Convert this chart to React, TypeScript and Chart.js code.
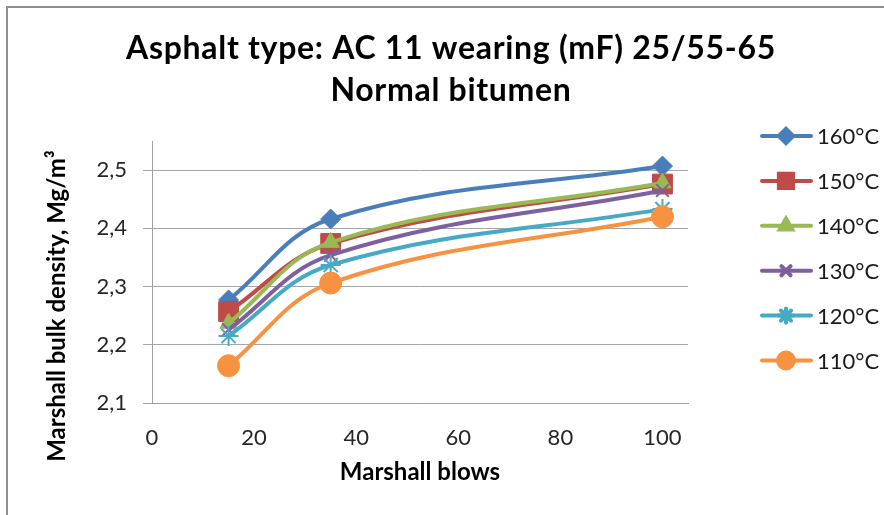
import React, { useEffect, useRef } from "react";
import { Chart, registerables } from "chart.js";
import { drawPoint } from "chart.js/helpers";

Chart.register(...registerables);

// ---- data ----
const BLOWS = [15, 35, 100];
const SERIES_LABELS = ["160°C", "150°C", "140°C", "130°C", "120°C", "110°C"];
const T160 = [2.277, 2.416, 2.507];
const T150 = [2.257, 2.374, 2.476];
const T140 = [2.237, 2.376, 2.478];
const T130 = [2.226, 2.354, 2.465];
const T120 = [2.215, 2.337, 2.433];
const T110 = [2.164, 2.306, 2.42];
const X_TICKS = [0, 20, 40, 60, 80, 100];
const Y_TICKS = [2.1, 2.2, 2.3, 2.4, 2.5];
const TITLE_LINES = ["Asphalt type: AC 11 wearing (mF) 25/55-65", "Normal bitumen"];
const X_TITLE = "Marshall blows";
const Y_TITLE = "Marshall bulk density, Mg/m³";

const SERIES_VALUES = [T160, T150, T140, T130, T120, T110];
const COLORS = ["#4A7EBB", "#BE4B48", "#98B954", "#7D60A0", "#46AAC5", "#F69240"];
const STYLES = ["rectRot", "rect", "triangle", "crossRot", "star", "circle"];
const RADII = [10, 14, 10, 9, 10, 11];

const FONT = "Lato, 'Open Sans', sans-serif";

const decorations = {
  id: "decorations",
  beforeDraw(chart: any) {
    const ctx = chart.ctx;
    ctx.save();
    ctx.fillStyle = "#ffffff";
    ctx.fillRect(0, 0, chart.width, chart.height);
    ctx.strokeStyle = "#8f8f8f";
    ctx.lineWidth = 2;
    ctx.beginPath();
    ctx.moveTo(7, chart.height);
    ctx.lineTo(7, 7);
    ctx.lineTo(chart.width, 7);
    ctx.stroke();
    ctx.restore();
  },
  afterDraw(chart: any) {
    const ctx = chart.ctx;
    // title
    ctx.save();
    ctx.fillStyle = "#000";
    ctx.font = `bold 32px ${FONT}`;
    (ctx as any).letterSpacing = "0.7px";
    ctx.textAlign = "center";
    ctx.textBaseline = "alphabetic";
    ctx.fillText(TITLE_LINES[0], 451, 59);
    ctx.fillText(TITLE_LINES[1], 451, 101);
    ctx.restore();

    // y-axis title
    ctx.save();
    ctx.fillStyle = "#000";
    ctx.font = `bold 24px ${FONT}`;
    ctx.translate(57, 306);
    ctx.rotate(-Math.PI / 2);
    ctx.textAlign = "center";
    ctx.textBaseline = "middle";
    ctx.fillText(Y_TITLE, 0, 0);
    ctx.restore();

    // legend
    const top = 136;
    const gap = 44.9;
    chart.data.datasets.forEach((ds: any, i: number) => {
      const y = top + i * gap;
      ctx.save();
      ctx.strokeStyle = ds.borderColor;
      ctx.lineWidth = 4;
      ctx.lineCap = "round";
      ctx.beginPath();
      ctx.moveTo(762, y);
      ctx.lineTo(811, y);
      ctx.stroke();
      ctx.fillStyle = ds.pointBackgroundColor;
      ctx.strokeStyle = ds.pointBorderColor;
      drawPoint(
        ctx,
        {
          pointStyle: ds.pointStyle,
          radius: ds.pointRadius * 0.72,
          rotation: 0,
          borderWidth: ds.pointBorderWidth,
        } as any,
        786,
        y
      );
      ctx.fillStyle = "#1a1a1a";
      ctx.font = `22px ${FONT}`;
      ctx.textBaseline = "middle";
      ctx.textAlign = "left";
      ctx.fillText(ds.label, 817, y + 1);
      ctx.restore();
    });
  },
};

export default function App() {
  const ref = useRef<HTMLCanvasElement | null>(null);

  useEffect(() => {
    if (!ref.current) return;
    const datasets = SERIES_LABELS.map((label, i) => {
      const isLineMarker = STYLES[i] === "crossRot" || STYLES[i] === "star";
      return {
        label,
        data: BLOWS.map((x, j) => ({ x, y: SERIES_VALUES[i][j] })),
        borderColor: COLORS[i],
        backgroundColor: COLORS[i],
        borderWidth: 4,
        tension: 0.38,
        pointStyle: STYLES[i],
        pointRadius: RADII[i],
        pointBackgroundColor: COLORS[i],
        pointBorderColor: COLORS[i],
        pointBorderWidth: isLineMarker ? 2 : 1,
        order: SERIES_LABELS.length - i,
      };
    });

    const chart = new Chart(ref.current, {
      type: "line",
      data: { datasets } as any,
      plugins: [decorations],
      options: {
        animation: false,
        responsive: false,
        layout: { padding: { left: 0, right: 196, top: 141, bottom: 0 } },
        plugins: {
          legend: { display: false },
          tooltip: { enabled: false },
          title: { display: false },
        },
        scales: {
          x: {
            type: "linear",
            min: 0,
            max: 105,
            afterBuildTicks: (scale: any) => {
              scale.ticks = X_TICKS.map((v) => ({ value: v }));
            },
            afterFit: (scale: any) => {
              scale.height = 112;
            },
            ticks: {
              color: "#262626",
              font: { family: FONT, size: 22 },
              padding: 22,
              maxRotation: 0,
              callback: (v: any) => String(v),
            },
            grid: { display: false, drawTicks: false },
            border: { display: true, color: "#a0a0a0", width: 1 },
            title: {
              display: true,
              text: X_TITLE,
              color: "#000",
              font: { family: FONT, size: 24, weight: "bold" },
              padding: { top: 0, bottom: 28 },
            },
          },
          y: {
            type: "linear",
            min: 2.1,
            max: 2.55,
            afterBuildTicks: (scale: any) => {
              scale.ticks = Y_TICKS.map((v) => ({ value: v }));
            },
            afterFit: (scale: any) => {
              scale.width = 152;
            },
            ticks: {
              color: "#262626",
              font: { family: FONT, size: 22 },
              padding: 16,
              callback: (v: any) => Number(v).toFixed(1).replace(".", ","),
            },
            grid: { color: "#a6a6a6", lineWidth: 1, tickLength: 9 },
            border: { display: true, color: "#a0a0a0", width: 1 },
          },
        },
      } as any,
    });
    return () => chart.destroy();
  }, []);

  return (
    <div style={{ position: "absolute", left: 0, top: 0, width: 884, height: 515 }}>
      <canvas ref={ref} width={884} height={515} style={{ display: "block" }} />
    </div>
  );
}
